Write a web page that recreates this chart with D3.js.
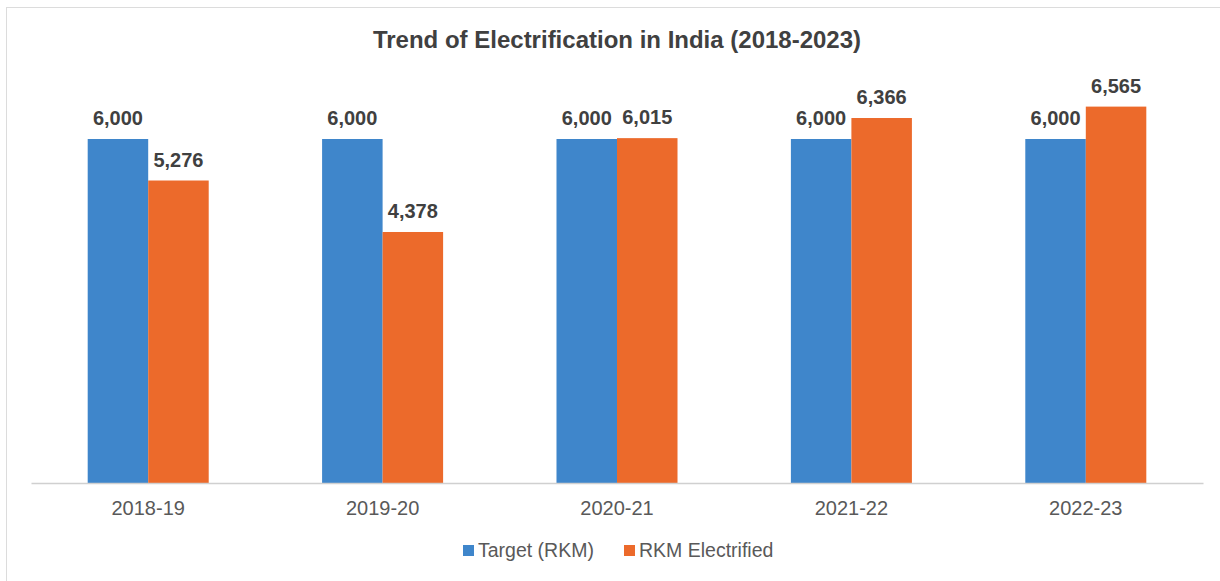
<!DOCTYPE html>
<html><head><meta charset="utf-8">
<script src="https://cdn.jsdelivr.net/npm/d3@7"></script>
<style>body{margin:0;background:#fff;font-family:"Liberation Sans",Arial,sans-serif;}</style>
</head><body>
<svg id="c" width="1220" height="581"></svg>
<script>
const categories = ["2018-19","2019-20","2020-21","2021-22","2022-23"];
const seriesNames = ["Target (RKM)","RKM Electrified"];
const target = [6000,6000,6000,6000,6000];
const electrified = [5276,4378,6015,6366,6565];
const colors = ["#3F86CB","#EC6A2B"];
const title = "Trend of Electrification in India (2018-2023)";

const svg = d3.select("#c");
svg.append("rect").attr("x",6.5).attr("y",7.5).attr("width",1230).attr("height",590)
  .attr("fill","#fff").attr("stroke","#dcdcdc");

const x0 = d3.scaleBand().domain(categories).range([31,1203]).paddingInner(0).paddingOuter(0);
const x1 = d3.scaleBand().domain(seriesNames).range([0,x0.bandwidth()]).paddingInner(0).paddingOuter(0.937);
const y = d3.scaleLinear().domain([0,6000]).range([483,139]);

const data = categories.map((c,i)=>({c, vals:[target[i],electrified[i]]}));

const g = svg.append("g");
const grp = g.selectAll("g.cat").data(data).enter().append("g")
  .attr("transform",d=>`translate(${x0(d.c)},0)`);
grp.selectAll("rect").data(d=>d.vals.map((v,j)=>({v,s:seriesNames[j],j})))
  .enter().append("rect")
  .attr("x",d=>x1(d.s)).attr("width",x1.bandwidth())
  .attr("y",d=>y(d.v)).attr("height",d=>y(0)-y(d.v))
  .attr("fill",d=>colors[d.j]);
grp.selectAll("text").data(d=>d.vals.map((v,j)=>({v,s:seriesNames[j],j})))
  .enter().append("text")
  .attr("x",d=>x1(d.s)+x1.bandwidth()/2)
  .attr("y",d=>y(d.v)-14)
  .attr("text-anchor","middle")
  .attr("font-size",20).attr("font-weight","bold").attr("fill","#404040")
  .text(d=>d3.format(",")(d.v));

// axis
const ax = svg.append("g").attr("transform","translate(0,483)")
  .call(d3.axisBottom(x0).tickSize(0).tickPadding(18));
ax.select(".domain").attr("stroke","#d0d0d0").attr("stroke-width",1.5);
ax.selectAll("text").attr("font-size",20).attr("fill","#595959")
  .attr("font-family","'Liberation Sans',Arial,sans-serif");

svg.append("text").attr("x",617).attr("y",48).attr("text-anchor","middle")
  .attr("font-size",24).attr("font-weight","bold").attr("fill","#404040").text(title);

// legend
const leg = svg.append("g");
const lx = [463,624];
seriesNames.forEach((s,i)=>{
  leg.append("rect").attr("x",lx[i]).attr("y",545).attr("width",11).attr("height",11).attr("fill",colors[i]);
  leg.append("text").attr("x",lx[i]+15).attr("y",557).attr("font-size",19.5).attr("fill","#595959").text(s);
});
</script>
</body></html>
